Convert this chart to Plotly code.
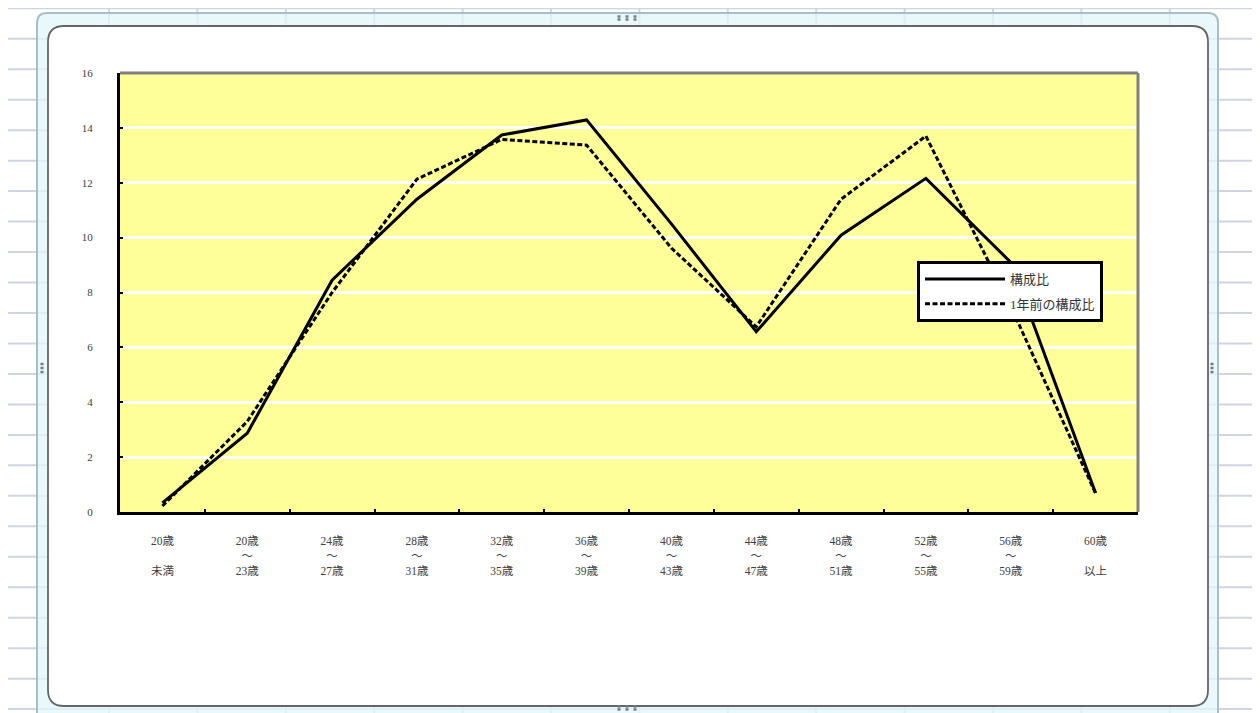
import plotly.graph_objects as go

categories = ["20歳<br> <br>未満", "20歳<br>～<br>23歳", "24歳<br>～<br>27歳", "28歳<br>～<br>31歳",
              "32歳<br>～<br>35歳", "36歳<br>～<br>39歳", "40歳<br>～<br>43歳", "44歳<br>～<br>47歳",
              "48歳<br>～<br>51歳", "52歳<br>～<br>55歳", "56歳<br>～<br>59歳", "60歳<br> <br>以上"]
current = [0.33, 2.87, 8.45, 11.4, 13.74, 14.29, 10.5, 6.57, 10.09, 12.16, 9.1, 0.69]
previous = [0.22, 3.3, 8.0, 12.13, 13.58, 13.37, 9.62, 6.75, 11.4, 13.7, 7.5, 0.68]
series_names = ["構成比", "1年前の構成比"]
y_ticks = [0, 2, 4, 6, 8, 10, 12, 14, 16]

W, H = 1260, 713
OFF = 8  # page body margin
L, R, T, B = 120, 1138, 73, 512  # plot area in page pixels
FW, FH = W - OFF, H - OFF


def px(x):
    return (x - L) / (R - L)


def py(y):
    return (B - y) / (B - T)


def rounded_path(x0, y0, x1, y1, r):
    pts = [
        ("M", [(x0 + r, y0)]),
        ("L", [(x1 - r, y0)]),
        ("Q", [(x1, y0), (x1, y0 + r)]),
        ("L", [(x1, y1 - r)]),
        ("Q", [(x1, y1), (x1 - r, y1)]),
        ("L", [(x0 + r, y1)]),
        ("Q", [(x0, y1), (x0, y1 - r)]),
        ("L", [(x0, y0 + r)]),
        ("Q", [(x0, y0), (x0 + r, y0)]),
    ]
    s = ""
    for cmd, ps in pts:
        s += cmd + " " + " ".join(f"{px(a):.5f},{py(b):.5f}" for a, b in ps) + " "
    return s + "Z"


serif = "Liberation Serif, Noto Sans CJK JP, serif"

fig = go.Figure()
fig.add_trace(go.Scatter(x=list(range(len(categories))), y=current, mode="lines",
                         name=series_names[0], legendgroup="a",
                         line=dict(color="black", width=3)))
fig.add_trace(go.Scatter(x=list(range(len(categories))), y=previous, mode="lines",
                         name=series_names[1], legendgroup="b",
                         line=dict(color="black", width=3, dash="5px,2.5px")))

shapes = []
# spreadsheet grid background
gridc = "#cdd5e4"
vx = [6.7] + [109 + 88.4 * k for k in range(13)]
for x in vx:
    shapes.append(dict(type="line", xref="paper", yref="paper", x0=px(x), x1=px(x),
                       y0=py(0), y1=py(H), line=dict(color=gridc, width=2), layer="below"))
hy = [8.3 + 30.47 * k for k in range(24)]
for y in hy:
    shapes.append(dict(type="line", xref="paper", yref="paper", x0=px(6.7), x1=px(W),
                       y0=py(y), y1=py(y), line=dict(color=gridc, width=2), layer="below"))
# selection frame
shapes.append(dict(type="path", xref="paper", yref="paper",
                   path=rounded_path(37, 13, 1218, 725, 10),
                   fillcolor="rgba(225,246,250,0.75)", line=dict(color="#a9bfc6", width=2),
                   layer="below"))
# chart area
shapes.append(dict(type="path", xref="paper", yref="paper",
                   path=rounded_path(48, 26, 1208, 706, 16),
                   fillcolor="white", line=dict(color="#666666", width=1.8), layer="below"))
# plot area background
shapes.append(dict(type="rect", xref="paper", yref="paper", x0=0, x1=1, y0=0, y1=1,
                   fillcolor="#FFFF99", line=dict(width=0), layer="below"))
# handles
for (hx, hy_) in [(627, 18), (42, 368), (1212, 368), (627, 708)]:
    for d in (-4, 0, 4):
        if hx != 627:
            shapes.append(dict(type="rect", xref="paper", yref="paper",
                               x0=px(hx - 1.5), x1=px(hx + 1.5), y0=py(hy_ + d - 1.2), y1=py(hy_ + d + 1.2),
                               fillcolor="#707a80", line=dict(width=0), layer="below"))
        else:
            for dy in (-1.5, 1.5):
                shapes.append(dict(type="rect", xref="paper", yref="paper",
                                   x0=px(hx + d * 2 - 1.5), x1=px(hx + d * 2 + 1.5),
                                   y0=py(hy_ + dy - 1.2), y1=py(hy_ + dy + 1.2),
                                   fillcolor="#707a80", line=dict(width=0), layer="below"))
# top / right border of plot area
shapes.append(dict(type="line", xref="paper", yref="paper", x0=0, x1=1, y0=1, y1=1,
                   line=dict(color="#808080", width=3), layer="above"))
shapes.append(dict(type="line", xref="paper", yref="paper", x0=1, x1=1, y0=0, y1=1,
                   line=dict(color="#808080", width=3), layer="above"))

fig.update_layout(
    width=FW, height=FH,
    margin=dict(l=L - OFF, r=FW - (R - OFF), t=T - OFF, b=FH - (B - OFF), pad=0),
    paper_bgcolor="white",
    plot_bgcolor="#FFFF99",
    shapes=shapes,
    showlegend=True,
    legend=dict(x=px(917), y=py(261), xanchor="left", yanchor="top",
                bgcolor="white", bordercolor="black", borderwidth=3,
                font=dict(family=serif, size=13, color="#333333"),
                tracegroupgap=5, itemwidth=80),
    xaxis=dict(
        type="linear", range=[-0.5, 11.5],
        tickmode="array", tickvals=list(range(len(categories))), ticktext=categories,
        showgrid=False, zeroline=False,
        showline=True, linecolor="black", linewidth=3,
        ticks="", ticklabelstandoff=16,
        tickfont=dict(family=serif, size=11.5, color="#404040"),
    ),
    yaxis=dict(
        range=[0, 16], tickmode="array", tickvals=y_ticks,
        showgrid=True, gridcolor="white", gridwidth=2.5, zeroline=False,
        showline=True, linecolor="black", linewidth=3,
        ticks="inside", ticklen=3, tickwidth=2, tickcolor="black",
        ticklabelstandoff=22,
        tickfont=dict(family=serif, size=11, color="#404040"),
    ),
)

# category boundary ticks on x axis
fig.update_xaxes(minor=dict(tickmode="array", tickvals=[i + 0.5 for i in range(len(categories) - 1)],
                            ticks="inside", ticklen=3, tickwidth=2, tickcolor="black"))

fig.write_html("out.html")
